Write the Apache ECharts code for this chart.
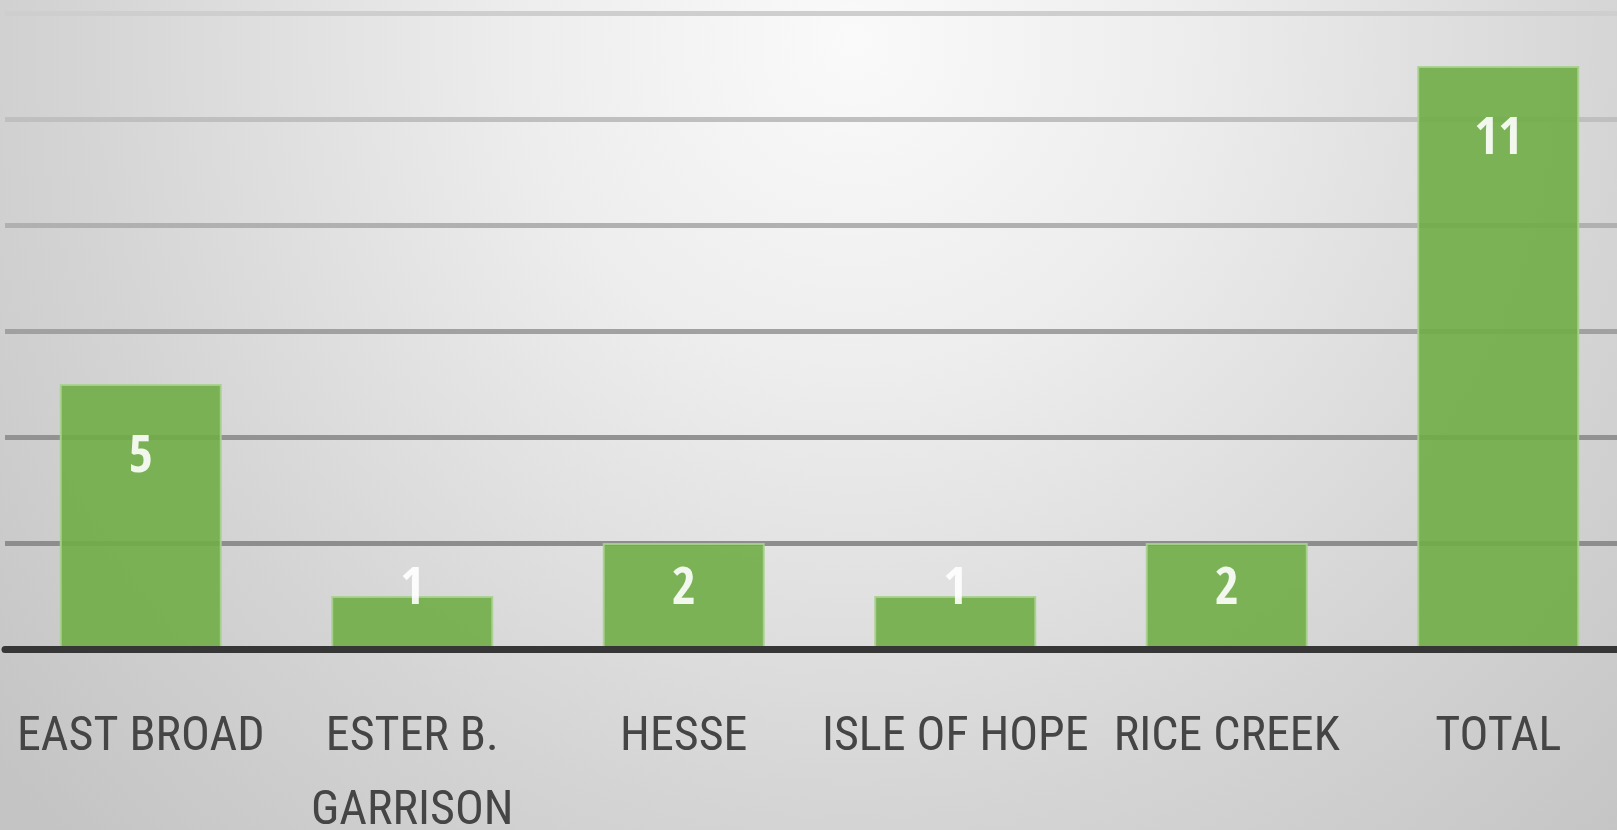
<!DOCTYPE html>
<html>
<head>
<meta charset="utf-8">
<script src="https://cdn.jsdelivr.net/npm/echarts@6/dist/echarts.min.js"></script>
<style>
  html, body { margin: 0; padding: 0; overflow: hidden; }
  #main { width: 1640px; height: 830px; }
</style>
</head>
<body>
<div id="main"></div>
<script>
var categories = ['EAST BROAD', 'ESTER B.\nGARRISON', 'HESSE', 'ISLE OF HOPE', 'RICE CREEK', 'TOTAL'];
var counts = [5, 1, 2, 1, 2, 11];
var yTicks = { min: 0, max: 12, step: 2 };

var myChart = echarts.init(document.getElementById('main'));

// tall bars get the number inside near the top, short ones sit it low
var barData = counts.map(function (v) {
  return {
    value: v,
    label: v >= 4 ? { position: 'insideTop', distance: 48 } : { position: 'insideBottom', distance: 33 }
  };
});

var option = {
  backgroundColor: {
    type: 'radial', x: 0.52, y: 0.05, r: 1.35,
    colorStops: [
      { offset: 0, color: '#fafafa' },
      { offset: 0.3, color: '#ededed' },
      { offset: 0.7, color: '#d4d4d4' },
      { offset: 1, color: '#c4c4c4' }
    ]
  },
  grid: { left: 5, right: 6, top: 13, bottom: 181, containLabel: false, outerBoundsMode: 'none' },
  xAxis: {
    type: 'category',
    data: categories,
    z: 5,
    axisLine: { lineStyle: { color: '#363636', width: 7 } },
    axisTick: { show: false },
    axisLabel: {
      color: '#454545',
      fontFamily: '"Roboto Condensed", "DejaVu Sans Condensed", sans-serif',
      fontSize: 48,
      lineHeight: 74,
      margin: 52,
      interval: 0
    }
  },
  yAxis: {
    type: 'value',
    min: yTicks.min,
    max: yTicks.max,
    interval: yTicks.step,
    axisLabel: { show: false },
    axisLine: { show: false },
    axisTick: { show: false },
    splitLine: {
      lineStyle: {
        width: 5,
        color: {
          type: 'linear', x: 0, y: 0, x2: 0, y2: 650, global: true,
          colorStops: [
            { offset: 0, color: '#d0d0d0' },
            { offset: 0.35, color: '#b0b0b0' },
            { offset: 0.65, color: '#939393' },
            { offset: 1, color: '#888888' }
          ]
        }
      }
    }
  },
  series: [{
    type: 'bar',
    data: barData,
    barWidth: 162,
    itemStyle: {
      color: '#70ad47',
      opacity: 0.9,
      borderColor: '#a9d18e',
      borderWidth: 2
    },
    label: {
      show: true,
      color: '#ffffff',
      fontFamily: '"Open Sans Condensed", "Roboto Condensed", sans-serif',
      fontWeight: 'bold',
      fontSize: 52
    }
  }]
};
myChart.setOption(option);
</script>
</body>
</html>
